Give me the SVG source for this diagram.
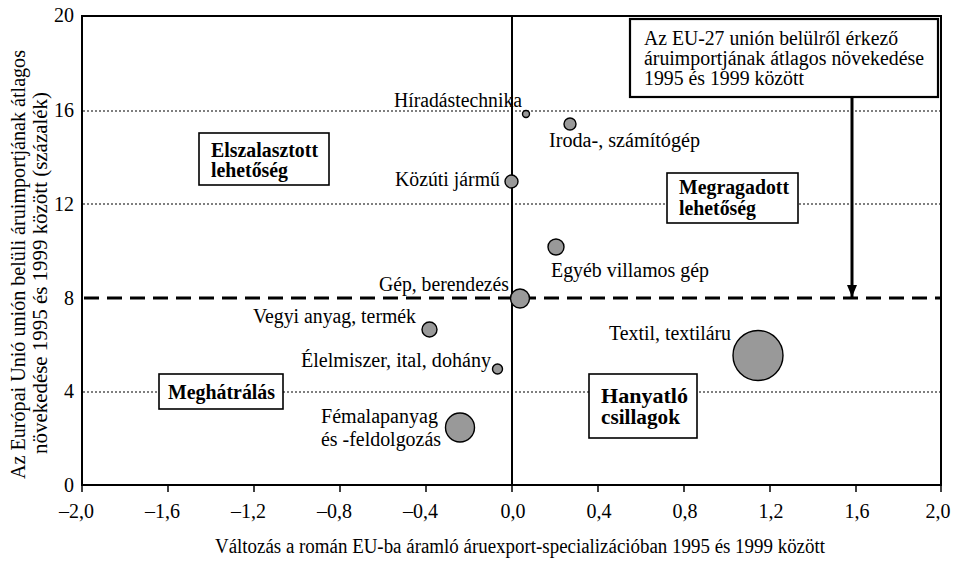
<svg xmlns="http://www.w3.org/2000/svg" width="957" height="561" viewBox="0 0 957 561">
<style>
text{font-family:"Liberation Serif","Times New Roman",serif;font-size:20px;fill:#000}
.b{font-weight:bold}
.pt{fill:#999;stroke:#000;stroke-width:1.4}
.dot{stroke:#000;stroke-width:1.2;stroke-dasharray:2 2;fill:none}
.box{fill:#fff;stroke:#000;stroke-width:1.6}
.tick{stroke:#000;stroke-width:1.5}
</style>
<defs>
<marker id="ah" markerWidth="12" markerHeight="10" refX="12" refY="5" orient="auto" markerUnits="userSpaceOnUse" viewBox="0 0 12 10">
<path d="M0,0 L12,5 L0,10 Z" fill="#000"/>
</marker>
</defs>
<rect x="0" y="0" width="957" height="561" fill="#fff"/>
<g id="grid">
<line class="dot" x1="83" y1="111" x2="941" y2="111"/>
<line class="dot" x1="83" y1="204" x2="941" y2="204"/>
<line class="dot" x1="83" y1="392" x2="941" y2="392"/>
<line x1="84" y1="298" x2="941" y2="298" stroke="#000" stroke-width="3" stroke-dasharray="15 8"/>
<line x1="512" y1="16" x2="512" y2="485" stroke="#000" stroke-width="2"/>
</g>
<g id="axes">
<rect x="82" y="16" width="859" height="469" fill="none" stroke="#000" stroke-width="2"/>
<g class="tick">
<line x1="82" y1="485" x2="82" y2="492"/><line x1="168" y1="485" x2="168" y2="492"/><line x1="254" y1="485" x2="254" y2="492"/><line x1="340" y1="485" x2="340" y2="492"/><line x1="426" y1="485" x2="426" y2="492"/><line x1="512" y1="485" x2="512" y2="492"/><line x1="598" y1="485" x2="598" y2="492"/><line x1="684" y1="485" x2="684" y2="492"/><line x1="770" y1="485" x2="770" y2="492"/><line x1="856" y1="485" x2="856" y2="492"/><line x1="941" y1="485" x2="941" y2="492"/>
</g>
<g text-anchor="end">
<text x="74" y="22">20</text><text x="74" y="117">16</text><text x="74" y="211">12</text><text x="74" y="305">8</text><text x="74" y="398">4</text><text x="74" y="492">0</text>
<text x="94" y="518">–2,0</text><text x="180" y="518">–1,6</text><text x="266" y="518">–1,2</text><text x="352" y="518">–0,8</text><text x="438" y="518">–0,4</text>
</g>
<g text-anchor="middle">
<text x="513" y="518">0,0</text><text x="599" y="518">0,4</text><text x="685" y="518">0,8</text><text x="771" y="518">1,2</text><text x="857" y="518">1,6</text><text x="938" y="518">2,0</text>
<text x="520" y="553" textLength="610" lengthAdjust="spacingAndGlyphs">Változás a román EU-ba áramló áruexport-specializációban 1995 és 1999 között</text>
<text transform="translate(25,264.5) rotate(-90)" textLength="429" lengthAdjust="spacingAndGlyphs">Az Európai Unió unión belüli áruimportjának átlagos</text>
<text transform="translate(47,273) rotate(-90)" textLength="362" lengthAdjust="spacingAndGlyphs">növekedése 1995 és 1999 között (százalék)</text>
</g>
</g>
<g id="q-elszalasztott">
<rect class="box" x="199" y="133" width="130" height="52"/>
<text class="b" x="211" y="157" textLength="107" lengthAdjust="spacingAndGlyphs">Elszalasztott</text>
<text class="b" x="211" y="177" textLength="77" lengthAdjust="spacingAndGlyphs">lehetőség</text>
</g>
<g id="q-megragadott">
<rect class="box" x="667" y="173" width="131" height="50"/>
<text class="b" x="679" y="194" textLength="110" lengthAdjust="spacingAndGlyphs">Megragadott</text>
<text class="b" x="679" y="215" textLength="77" lengthAdjust="spacingAndGlyphs">lehetőség</text>
</g>
<g id="q-hanyatlo">
<rect class="box" x="589" y="374" width="108" height="64"/>
<text class="b" x="601" y="403" textLength="87" lengthAdjust="spacingAndGlyphs">Hanyatló</text>
<text class="b" x="601" y="424" textLength="79" lengthAdjust="spacingAndGlyphs">csillagok</text>
</g>
<g id="q-meghatralas">
<rect class="box" x="159" y="374" width="124" height="35"/>
<text class="b" x="168" y="399" textLength="107" lengthAdjust="spacingAndGlyphs">Meghátrálás</text>
</g>
<g id="note">
<rect x="630" y="19" width="308" height="78" fill="#fff" stroke="#000" stroke-width="2.2"/>
<text x="644" y="45" textLength="254" lengthAdjust="spacingAndGlyphs">Az EU-27 unión belülről érkező</text>
<text x="644" y="65" textLength="280" lengthAdjust="spacingAndGlyphs">áruimportjának átlagos növekedése</text>
<text x="644" y="85" textLength="160" lengthAdjust="spacingAndGlyphs">1995 és 1999 között</text>
</g>
<g id="connectors">
<line x1="852" y1="97" x2="852" y2="297" stroke="#000" stroke-width="3" marker-end="url(#ah)"/>
</g>
<g id="p-hirado"><circle class="pt" cx="526" cy="114" r="3.5"/><text x="394" y="107" textLength="128" lengthAdjust="spacingAndGlyphs">Híradástechnika</text></g>
<g id="p-iroda"><circle class="pt" cx="570" cy="124" r="6"/><text x="549" y="147" textLength="151" lengthAdjust="spacingAndGlyphs">Iroda-, számítógép</text></g>
<g id="p-kozuti"><circle class="pt" cx="511.5" cy="181.5" r="6.5"/><text x="395" y="186" textLength="105" lengthAdjust="spacingAndGlyphs">Közúti jármű</text></g>
<g id="p-egyeb"><circle class="pt" cx="556" cy="247" r="8"/><text x="551" y="277" textLength="158" lengthAdjust="spacingAndGlyphs">Egyéb villamos gép</text></g>
<g id="p-gep"><circle class="pt" cx="520" cy="298.5" r="9.5"/><text x="379" y="291" textLength="130" lengthAdjust="spacingAndGlyphs">Gép, berendezés</text></g>
<g id="p-vegyi"><circle class="pt" cx="429.5" cy="329.5" r="7.5"/><text x="253" y="323" textLength="163" lengthAdjust="spacingAndGlyphs">Vegyi anyag, termék</text></g>
<g id="p-elelmiszer"><circle class="pt" cx="497.5" cy="369" r="5"/><text x="301" y="367" textLength="190" lengthAdjust="spacingAndGlyphs">Élelmiszer, ital, dohány</text></g>
<g id="p-fem"><circle class="pt" cx="460" cy="427.5" r="14.5"/><text x="321" y="423" textLength="117" lengthAdjust="spacingAndGlyphs">Fémalapanyag</text><text x="321" y="446" textLength="120" lengthAdjust="spacingAndGlyphs">és -feldolgozás</text></g>
<g id="p-textil"><circle class="pt" cx="758" cy="355.5" r="25"/><text x="609" y="340" textLength="122" lengthAdjust="spacingAndGlyphs">Textil, textiláru</text></g>
</svg>
